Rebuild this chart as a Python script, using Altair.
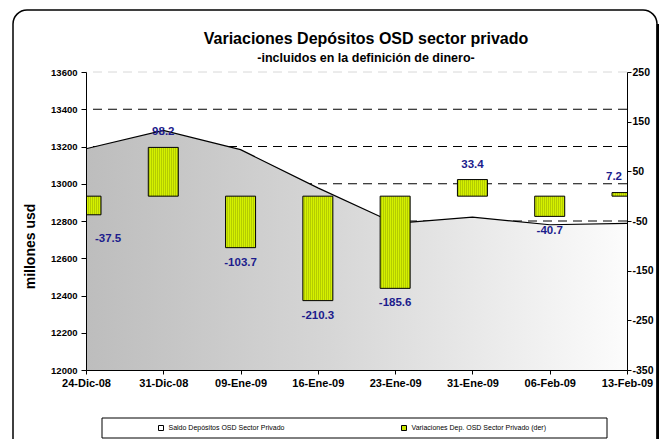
import altair as alt
import pandas as pd

# ---------------- data ----------------
fechas = ["24-Dic-08", "31-Dic-08", "09-Ene-09", "16-Ene-09",
          "23-Ene-09", "31-Ene-09", "06-Feb-09", "13-Feb-09"]
saldo = [13188, 13286, 13183, 12978, 12787, 12821, 12780, 12787]
variacion = [-37.5, 98.2, -103.7, -210.3, -185.6, 33.4, -40.7, 7.2]

left_ticks = [12000, 12200, 12400, 12600, 12800, 13000, 13200, 13400, 13600]
right_ticks = [250, 150, 50, -50, -150, -250, -350]
grid_vals = [13600, 13400, 13200, 13000, 12800, 12600, 12400, 12200]

series = ["Saldo Depósitos OSD Sector Privado",
          "Variaciones Dep. OSD Sector Privado (der)"]
title_text = "Variaciones Depósitos OSD sector privado"
subtitle_text = "-incluidos en la definición de dinero-"
y_title = "millones usd"

FONT = "Liberation Sans"
BAR_A = "#d4f000"
BAR_B = "#b4cc00"
LABEL_COLOR = "#1c1c8c"

df = pd.DataFrame({
    "fecha": fechas,
    "saldo": saldo,
    "variacion": variacion,
    "i": list(range(len(fechas))),
    "serie": series[1],
})
grid_df = pd.DataFrame({"g": grid_vals})
one = pd.DataFrame({"k": [0]})
leg_df = pd.DataFrame({"serie": series})

# ---------------- shared encodings ----------------
x_enc = alt.X(
    "fecha:N", sort=fechas,
    scale=alt.Scale(type="point", padding=0),
    axis=alt.Axis(title=None, labelAngle=0, labelFont=FONT, labelFontSize=11,
                  labelFontWeight="bold", labelColor="black", tickSize=4,
                  tickColor="black", domainColor="black", labelPadding=3,
                  grid=False, zindex=1),
)

left_scale = alt.Scale(domain=[12000, 13600], nice=False, zero=False)
left_axis = alt.Axis(
    title=y_title, values=left_ticks, format="d", grid=False,
    labelFont=FONT, labelFontSize=9.5, labelFontWeight="bold", labelColor="black",
    tickSize=5, tickColor="black", domainColor="black", labelPadding=4,
    titleFont=FONT, titleFontSize=14, titleFontWeight="bold", titleColor="black",
    titleAngle=270, titleX=-56, titleY=174, titleAlign="center",
    titleBaseline="middle", zindex=1,
)

right_scale = alt.Scale(domain=[-350, 250], nice=False, zero=False)
right_axis = alt.Axis(
    orient="right", title=None, values=right_ticks, grid=False,
    labelExpr="replace(datum.label, '\u2212', '-')",
    labelFont=FONT, labelFontSize=10.5, labelFontWeight="bold", labelColor="black",
    tickSize=4, tickColor="black", domainColor="black", labelPadding=1, zindex=1,
)

# ---------------- decorations (frame, legend box) ----------------
frame = alt.Chart(one).mark_rect(
    fill="transparent", stroke="black", strokeWidth=1.5, cornerRadius=14
).encode(x=alt.value(-73), x2=alt.value(571), y=alt.value(-62), y2=alt.value(385))

frame_shadow = alt.Chart(one).mark_rule(color="black", strokeWidth=3).encode(
    x=alt.value(572), y=alt.value(-48), y2=alt.value(385))

legend_box = alt.Chart(one).mark_rect(
    fill="transparent", stroke="black", strokeWidth=1
).encode(x=alt.value(16), x2=alt.value(521), y=alt.value(346), y2=alt.value(366))

# ---------------- left axis layers ----------------
grid = alt.Chart(grid_df).mark_rule(strokeDash=[9, 6], strokeWidth=1).encode(
    y=alt.Y("g:Q", scale=left_scale, axis=left_axis),
    color=alt.condition("datum.g == 13600", alt.value("#d8d8d8"), alt.value("black")),
)

area_grad = alt.Gradient(
    gradient="linear",
    stops=[alt.GradientStop(color="#bdbdbd", offset=0),
           alt.GradientStop(color="#d6d6d6", offset=0.45),
           alt.GradientStop(color="#fcfcfc", offset=1)],
    x1=0, x2=1, y1=0, y2=0,
)

area = alt.Chart(df).mark_area(color=area_grad).encode(
    x=x_enc,
    y=alt.Y("saldo:Q", scale=left_scale, axis=left_axis),
    y2=alt.datum(12000),
)

line = alt.Chart(df).mark_line(color="black", strokeWidth=1.2).encode(
    x=x_enc,
    y=alt.Y("saldo:Q", scale=left_scale, axis=left_axis),
)

left = alt.layer(frame, frame_shadow, legend_box, grid, area, line)

# ---------------- right axis layers ----------------
stops = []
n = 15
for k in range(n):
    stops.append(alt.GradientStop(color=BAR_A, offset=k / n))
    stops.append(alt.GradientStop(color=BAR_A, offset=(k + 0.5) / n))
    stops.append(alt.GradientStop(color=BAR_B, offset=(k + 0.5) / n))
    stops.append(alt.GradientStop(color=BAR_B, offset=(k + 1) / n))
bar_grad = alt.Gradient(gradient="linear", stops=stops, x1=0, x2=1, y1=0, y2=0)

y_right = alt.Y("variacion:Q", scale=right_scale, axis=right_axis)

bars = alt.Chart(df).mark_bar(
    size=30, clip=True, stroke="black", strokeWidth=1, fill=bar_grad
).encode(x=x_enc, y=y_right, y2=alt.datum(0))

txt = dict(font=FONT, fontSize=11.5, fontWeight="bold", color=LABEL_COLOR, baseline="middle")
label_calc = "(datum.variacion < 0 ? '-' : '') + format(abs(datum.variacion), '.1f')"
text_enc = dict(x=x_enc, y=y_right, text=alt.Text("lbl:N"))


def labels(flt, **kw):
    return (alt.Chart(df)
            .transform_filter(flt)
            .transform_calculate(lbl=label_calc)
            .mark_text(**txt, **kw)
            .encode(**text_enc))


t_neg = labels("datum.variacion < 0 && datum.i > 0", dy=15)
t_pos = labels("datum.variacion > 0 && datum.i < 7", dy=-15)
t_first = labels("datum.i == 0", dy=24, dx=9, align="left")
t_last = labels("datum.i == 7", dy=-16, dx=-5, align="right")

legend_pts = alt.Chart(leg_df).mark_point(size=0, filled=True, opacity=0).encode(
    fill=alt.Fill(
        "serie:N",
        scale=alt.Scale(domain=series, range=["white", "#c8e400"]),
        legend=alt.Legend(
            orient="none", legendX=71.5, legendY=352.5, direction="horizontal",
            title=None, symbolType="square", symbolSize=25,
            symbolStrokeColor="black", symbolStrokeWidth=1, symbolOpacity=1,
            labelFont=FONT, labelFontSize=7, labelColor="black",
            columnPadding=115, labelOffset=4, padding=0, zindex=1,
        ),
    )
)

right = alt.layer(bars, t_neg, t_pos, t_first, t_last, legend_pts)

chart = alt.layer(left, right).resolve_scale(y="independent").properties(
    width=541,
    height=298,
    padding={"left": 78, "top": 64, "right": 32, "bottom": 69},
    autosize=alt.AutoSizeParams(type="none"),
    title=alt.Title(
        text=title_text, subtitle=subtitle_text,
        font=FONT, fontSize=16, fontWeight="bold", color="black",
        subtitleFont=FONT, subtitleFontSize=12.5, subtitleFontWeight="bold",
        subtitleColor="black", anchor="middle", frame="group",
        dx=9.5, dy=59, offset=4, subtitlePadding=5,
    ),
    background="white",
).configure_view(stroke="transparent")

chart.save("out.html", embed_options={"renderer": "svg", "actions": False})
